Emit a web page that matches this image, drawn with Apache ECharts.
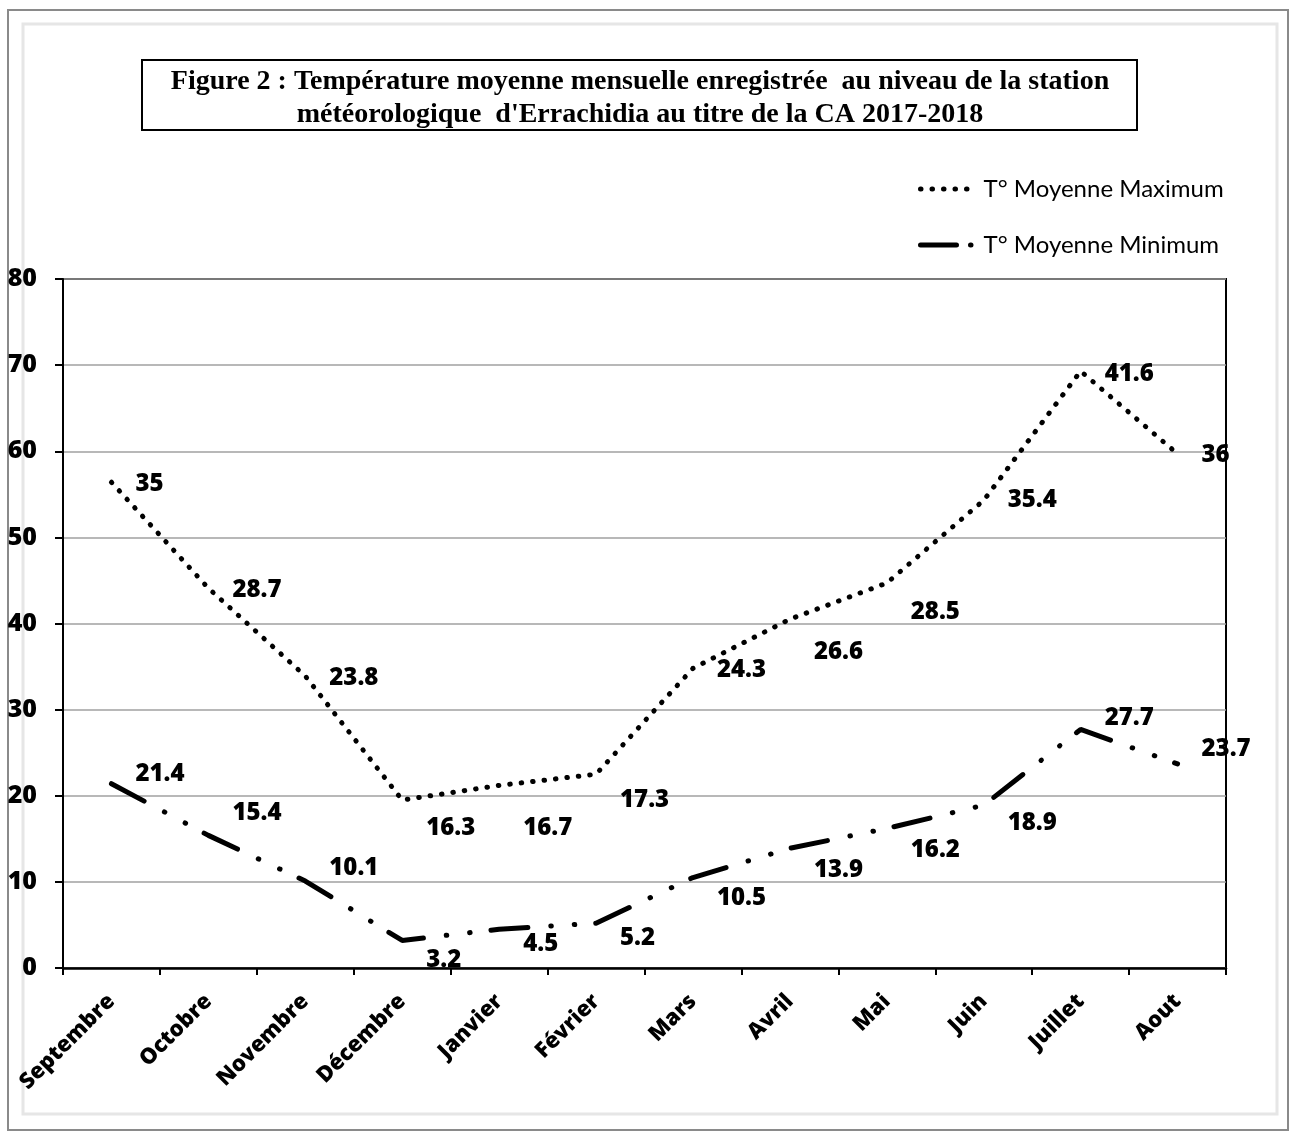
<!DOCTYPE html>
<html>
<head>
<meta charset="utf-8">
<script src="https://cdn.jsdelivr.net/npm/echarts@6/dist/echarts.min.js"></script>
<style>
html,body{margin:0;padding:0;background:#fff;}
#chart{width:1298px;height:1131px;}
</style>
</head>
<body>
<div id="chart"></div>
<script>
const months = ['Septembre','Octobre','Novembre','Décembre','Janvier','Février','Mars','Avril','Mai','Juin','Juillet','Aout'];
const tMin = [21.4,15.4,10.1,3.2,4.5,5.2,10.5,13.9,16.2,18.9,27.7,23.7];
const tMax = [35,28.7,23.8,16.3,16.7,17.3,24.3,26.6,28.5,35.4,41.6,36];
const yTicks = [0,10,20,30,40,50,60,70,80];
const nameMax = 'T° Moyenne Maximum';
const nameMin = 'T° Moyenne Minimum';
const titleLines = ["Figure 2 : Température moyenne mensuelle enregistrée  au niveau de la station", "météorologique  d'Errachidia au titre de la CA 2017-2018"];

function withLabels(values, nudges){
  return values.map((v,i)=>({value:v, label:{offset:[0, nudges[i]]}}));
}
const maxNudge = [2,2,2,28,43,26,2,33,29,0,3,1];
const minNudge = [-10,-22,-13,20,15,15,21,22,22,18,-11,-15];

const boldFont = 'Open Sans';
const labelFont = {fontFamily:boldFont, fontWeight:800, fontSize:24, color:'#000'};
const dotStyle = {color:'#000', width:5, type:[0.5,11], cap:'round'};
const dashDotStyle = {color:'#000', width:5, type:[37,23,0.5,23,0.5,21], cap:'round'};

const chart = echarts.init(document.getElementById('chart'));
chart.setOption({
  animation:false,
  backgroundColor:'#fff',
  graphic:[
    {type:'rect', shape:{x:8,y:10,width:1280,height:1120}, style:{fill:'none', stroke:'#8a8a8a', lineWidth:2}, z:-10},
    {type:'rect', shape:{x:23,y:24,width:1254,height:1090}, style:{fill:'none', stroke:'#e6e6e6', lineWidth:3}, z:-10},
    {type:'rect', shape:{x:142,y:60,width:995,height:70}, style:{fill:'#fff', stroke:'#000', lineWidth:2}},
    {type:'text', x:640, y:65, style:{text:titleLines.join('\n'), align:'center', fontFamily:'Liberation Serif', fontWeight:'bold', fontSize:28, lineHeight:33, fill:'#000'}}
  ],
  legend:{
    data:[
      {name:nameMax, lineStyle:dotStyle},
      {name:nameMin, lineStyle:Object.assign({}, dashDotStyle, {type:[36,14,0.5,30]})}
    ],
    orient:'vertical',
    left:913, top:172,
    itemWidth:54, itemHeight:20, itemGap:32,
    itemStyle:{opacity:0},
    textStyle:{fontFamily:'Lato', fontSize:24, color:'#000', padding:[0,0,0,4]}
  },
  grid:{left:63, right:72, top:279, bottom:163, show:true, borderColor:'#000', borderWidth:2},
  xAxis:{
    type:'category', data:months, boundaryGap:true,
    axisLine:{lineStyle:{color:'#000', width:2.5}},
    axisTick:{show:true, length:7, lineStyle:{color:'#000', width:2}},
    axisLabel:{rotate:45, margin:30, fontFamily:boldFont, fontWeight:800, fontSize:22, color:'#000'}
  },
  yAxis:{
    type:'value', min:yTicks[0], max:yTicks[yTicks.length-1], interval:10,
    axisLine:{show:true, lineStyle:{color:'#000', width:2}},
    axisTick:{show:true, length:8, lineStyle:{color:'#000', width:2}},
    splitLine:{lineStyle:{color:'#a0a0a0', width:1.5}},
    axisLabel:{margin:26, fontFamily:boldFont, fontWeight:800, fontSize:25, color:'#000'}
  },
  series:[
    {
      name:nameMin, type:'line', stack:'total', data:withLabels(tMin, minNudge),
      symbol:'circle', symbolSize:0.01, showSymbol:true,
      lineStyle:dashDotStyle,
      itemStyle:{color:'#000'},
      label:Object.assign({show:true, position:'right', distance:24}, labelFont),
      z:3
    },
    {
      name:nameMax, type:'line', stack:'total', data:withLabels(tMax, maxNudge),
      symbol:'circle', symbolSize:0.01, showSymbol:true,
      lineStyle:dotStyle,
      itemStyle:{color:'#000'},
      label:Object.assign({show:true, position:'right', distance:24}, labelFont),
      z:3
    }
  ]
});
</script>
</body>
</html>
